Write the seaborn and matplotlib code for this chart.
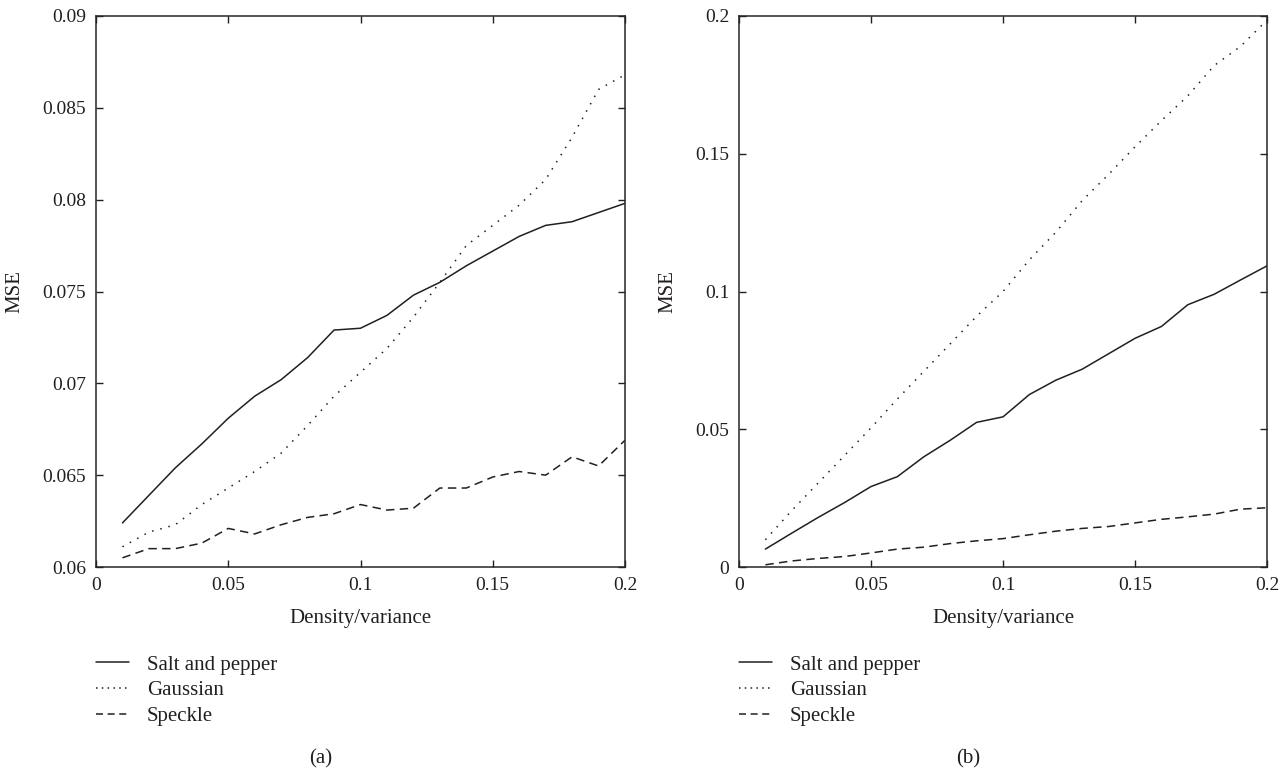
import numpy as np
import pandas as pd
import matplotlib
matplotlib.use("Agg")
import matplotlib.pyplot as plt
from matplotlib.lines import Line2D
import seaborn as sns

# Noise level (density for salt-and-pepper, variance for Gaussian/speckle)
levels = [0.01, 0.02, 0.03, 0.04, 0.05, 0.06, 0.07, 0.08, 0.09, 0.10,
          0.11, 0.12, 0.13, 0.14, 0.15, 0.16, 0.17, 0.18, 0.19, 0.20]

series_names = ["Salt and pepper", "Gaussian", "Speckle"]

# Panel (a)
mse_a_salt = [0.0624, 0.0639, 0.0654, 0.0667, 0.0681, 0.0693, 0.0702, 0.0714, 0.0729, 0.0730,
              0.0737, 0.0748, 0.0755, 0.0764, 0.0772, 0.0780, 0.0786, 0.0788, 0.0793, 0.0798]
mse_a_gauss = [0.0611, 0.0619, 0.0623, 0.0634, 0.0643, 0.0652, 0.0662, 0.0677, 0.0693, 0.0706,
               0.0719, 0.0736, 0.0755, 0.0775, 0.0786, 0.0797, 0.0811, 0.0834, 0.0860, 0.0868]
mse_a_speckle = [0.0605, 0.0610, 0.0610, 0.0613, 0.0621, 0.0618, 0.0623, 0.0627, 0.0629, 0.0634,
                 0.0631, 0.0632, 0.0643, 0.0643, 0.0649, 0.0652, 0.0650, 0.0660, 0.0655, 0.0669]

# Panel (b)
mse_b_salt = [0.0065, 0.0123, 0.0180, 0.0234, 0.0292, 0.0328, 0.0400, 0.0460, 0.0525, 0.0545,
              0.0626, 0.0678, 0.0718, 0.0774, 0.0830, 0.0873, 0.0952, 0.0990, 0.1042, 0.1093]
mse_b_gauss = [0.0099, 0.0205, 0.0305, 0.0405, 0.0505, 0.0610, 0.0710, 0.0810, 0.0910, 0.1000,
               0.1115, 0.1215, 0.1330, 0.1425, 0.1525, 0.1620, 0.1710, 0.1820, 0.1890, 0.1985]
mse_b_speckle = [0.0008, 0.0022, 0.0031, 0.0038, 0.0051, 0.0065, 0.0072, 0.0085, 0.0095, 0.0103,
                 0.0117, 0.0130, 0.0140, 0.0147, 0.0160, 0.0173, 0.0182, 0.0192, 0.0210, 0.0215]

x_ticks = [0, 0.05, 0.1, 0.15, 0.2]
x_ticklabels = ["0", "0.05", "0.1", "0.15", "0.2"]
y_ticks_a = [0.06, 0.065, 0.07, 0.075, 0.08, 0.085, 0.09]
y_ticklabels_a = ["0.06", "0.065", "0.07", "0.075", "0.08", "0.085", "0.09"]
y_ticks_b = [0, 0.05, 0.1, 0.15, 0.2]
y_ticklabels_b = ["0", "0.05", "0.1", "0.15", "0.2"]


def long_frame(salt, gauss, speckle):
    return pd.DataFrame({
        "level": levels * 3,
        "mse": salt + gauss + speckle,
        "noise": [series_names[0]] * len(levels) + [series_names[1]] * len(levels)
                 + [series_names[2]] * len(levels),
    })


df_a = long_frame(mse_a_salt, mse_a_gauss, mse_a_speckle)
df_b = long_frame(mse_b_salt, mse_b_gauss, mse_b_speckle)

sns.set_theme(style="ticks")
plt.rcParams["font.family"] = ["Liberation Serif", "DejaVu Serif"]
plt.rcParams["axes.linewidth"] = 1.1
plt.rcParams["text.color"] = "#231f20"
plt.rcParams["axes.labelcolor"] = "#231f20"
plt.rcParams["xtick.color"] = "#231f20"
plt.rcParams["ytick.color"] = "#231f20"

ink = "#231f20"
line_w = 1.1
dash_styles = {
    "Salt and pepper": "",
    "Gaussian": (1, 4.5),
    "Speckle": (5.5, 3.5),
}
# Legend keys use slightly tighter patterns so each key shows several marks
legend_dashes = {
    "Salt and pepper": None,
    "Gaussian": (0, (1, 2.8)),
    "Speckle": (0, (4.6, 3.0)),
}

fig = plt.figure(figsize=(12.88, 7.73), dpi=100)
W, H = 1288, 773
ax_a = fig.add_axes([96 / W, 1 - 567 / H, (625 - 96) / W, (567 - 16) / H])
ax_b = fig.add_axes([739 / W, 1 - 567 / H, (1267 - 739) / W, (567 - 16) / H])

panels = [
    (ax_a, df_a, y_ticks_a, y_ticklabels_a, (0.06, 0.09), 96, 321, "(a)"),
    (ax_b, df_b, y_ticks_b, y_ticklabels_b, (0.0, 0.2), 739, 968, "(b)"),
]

for ax, df, yt, ytl, ylim, left_px, cap_px, cap in panels:
    sns.lineplot(data=df, x="level", y="mse", style="noise", dashes=dash_styles,
                 style_order=series_names, color=ink, linewidth=line_w,
                 ax=ax, legend=False)
    ax.set_xlim(0, 0.2)
    ax.set_ylim(*ylim)
    ax.set_xticks(x_ticks)
    ax.set_xticklabels(x_ticklabels)
    ax.set_yticks(yt)
    ax.set_yticklabels(ytl)
    ax.tick_params(direction="in", length=5, width=1.0, top=True, right=True,
                   labelsize=14, pad=7)
    ax.set_xlabel("Density/variance", fontsize=15, labelpad=11)
    ax.set_ylabel("MSE", fontsize=15, labelpad=13)

    handles = []
    for name in series_names:
        ls = legend_dashes[name]
        handles.append(Line2D([], [], color=ink, linewidth=line_w,
                              linestyle="-" if ls is None else ls))
    fig.legend(handles, series_names, loc="upper left",
               bbox_to_anchor=(left_px / W, 1 - 655 / H),
               bbox_transform=fig.transFigure, frameon=False, fontsize=15,
               handlelength=1.6, handletextpad=0.85, labelspacing=0.3,
               borderpad=0, borderaxespad=0)
    fig.text(cap_px / W, 1 - 759 / H, cap, ha="center", va="center", fontsize=15)

fig.savefig("out.png", dpi=100, facecolor="white")
